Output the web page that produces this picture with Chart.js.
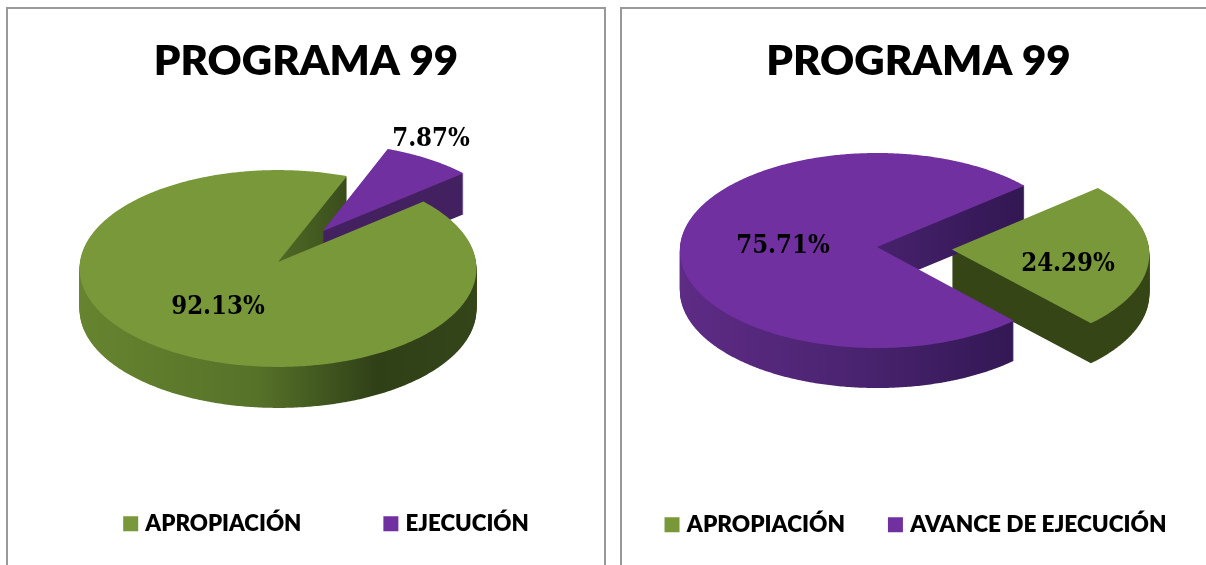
<!DOCTYPE html>
<html><head><meta charset="utf-8">
<script src="https://cdn.jsdelivr.net/npm/chart.js@4"></script>
<style>
html,body{margin:0;padding:0;background:#fff;overflow:hidden;width:1206px;height:565px}
.frame{position:absolute;top:7px;height:600px;border:2px solid #999;box-sizing:border-box}
canvas{position:absolute;top:0;left:0;filter:blur(0.4px)}
</style></head><body>
<div class="frame" style="left:6px;width:600px"></div>
<div class="frame" style="left:620px;width:640px"></div>
<div style="position:absolute;left:0;top:0;width:612px;height:565px"><canvas id="a" width="612" height="565" style="width:612px;height:565px"></canvas></div>
<div style="position:absolute;left:612px;top:0;width:594px;height:565px;overflow:hidden"><canvas id="b" width="660" height="565" style="width:660px;height:565px"></canvas></div>
<script>
const TITLE = 'PROGRAMA 99';
const CATEGORIES_A = ['APROPIACIÓN', 'EJECUCIÓN'];
const VALUES_A = [92.13, 7.87];
const CATEGORIES_B = ['APROPIACIÓN', 'AVANCE DE EJECUCIÓN'];
const VALUES_B = [24.29, 75.71];
const TOP_COLORS = ['#78983a', '#7030a0'];
const GREEN_WALL = ['#66842f', '#567229', '#2f4017', '#35451a'];
const GREEN_WALL_DARK = ['#354516', '#354516', '#354516', '#354516'];
const PURPLE_WALL = ['#5e2b85', '#4a2370', '#381a5a', '#2e154c'];
const PURPLE_WALL_FLAT = ['#43205f', '#43205f', '#43205f', '#43205f'];

function projector(o, arc) {
  const R = arc.outerRadius, k = o.kR / R;
  return (px, py) => {
    const s = 1 / (1 - o.q * py / R);
    return [arc.x + px * s, arc.y + k * py * s];
  };
}
function slicePath(ctx, arc, o) {
  const p = projector(o, arc), off = arc.options.offset || 0;
  const mid = (arc.startAngle + arc.endAngle) / 2;
  const ox = Math.cos(mid) * off, oy = Math.sin(mid) * off;
  const n = Math.ceil((arc.endAngle - arc.startAngle) / 0.01);
  ctx.beginPath();
  ctx.moveTo(...p(ox, oy));
  for (let i = 0; i <= n; i++) {
    const t = arc.startAngle + (arc.endAngle - arc.startAngle) * i / n;
    ctx.lineTo(...p(ox + Math.cos(t) * arc.outerRadius, oy + Math.sin(t) * arc.outerRadius));
  }
  ctx.closePath();
}
function wallFill(ctx, arc, stops) {
  const g = ctx.createLinearGradient(arc.x - arc.outerRadius, 0, arc.x + arc.outerRadius, 0);
  [0, .45, .75, 1].forEach((s, i) => g.addColorStop(s, stops[i]));
  return g;
}
const pie3d = {
  id: 'pie3d',
  afterLayout(chart, args, o) {
    const {left, top, right, bottom} = o.area;
    chart.chartArea = {left, top, right, bottom, width: right - left, height: bottom - top};
    const t = chart.titleBlock, l = chart.legend;
    t.left += o.titleDx; t.right += o.titleDx; t.top = o.titleTop; t.bottom = t.top + t.height;
    l.left += o.legendDx; l.right += o.legendDx;
    l.top = o.legendY - o.legendGap - o.legendSize * 0.6;
    l.bottom = l.top + l.height;
  },
  beforeDatasetsDraw(chart, args, o) {
    const ctx = chart.ctx, arcs = chart.getDatasetMeta(0).data;
    ctx.save();
    [0, 1].forEach(i => {
      const arc = arcs[i];
      ctx.fillStyle = wallFill(ctx, arc, o.walls[i]);
      for (let d = o.depth; d >= 1; d--) {
        ctx.save(); ctx.translate(0, d); slicePath(ctx, arc, o); ctx.fill(); ctx.restore();
      }
    });
    [1, 0].forEach(i => {
      slicePath(ctx, arcs[i], o);
      ctx.fillStyle = arcs[i].options.backgroundColor;
      ctx.fill();
    });
    ctx.restore();
    return false;
  },
  afterDraw(chart, args, o) {
    const ctx = chart.ctx, vals = chart.data.datasets[0].data;
    ctx.save();
    ctx.font = o.labelFont; ctx.fillStyle = '#000';
    ctx.textAlign = 'center'; ctx.textBaseline = 'middle';
    vals.forEach((v, i) => ctx.fillText(v.toFixed(2) + '%', o.labels[i][0], o.labels[i][1]));
    ctx.restore();
  }
};
function build(id, cats, vals, rotation, offsets, radius, o) {
  new Chart(document.getElementById(id), {
    type: 'pie',
    data: {labels: cats, datasets: [{data: vals, backgroundColor: TOP_COLORS, borderWidth: 0, offset: offsets}]},
    options: {
      responsive: false, animation: false, rotation, radius,
      plugins: {
        tooltip: {enabled: false},
        title: {display: true, text: TITLE, color: '#000', font: {family: 'Lato', weight: '800', size: o.titleSize}, padding: 0},
        legend: {position: 'bottom', labels: {usePointStyle: true, pointStyle: 'rect', boxWidth: 7, boxHeight: 15,
          padding: o.legendGap, color: '#000', font: {family: 'Lato', weight: '800', size: o.legendSize}}},
        pie3d: o
      }
    },
    plugins: [pie3d]
  });
}
const LABEL_FONT = 'bold 25.5px "DejaVu Serif Condensed"';
build('a', CATEGORIES_A, VALUES_A, 50, [0, 78], 198, {
  area: {left: 78, right: 478, top: 62, bottom: 462}, q: .066, kR: 98, depth: 41,
  walls: [GREEN_WALL, PURPLE_WALL_FLAT], labelFont: LABEL_FONT,
  labels: [[218, 307], [431, 139]], titleDx: 0, titleTop: 36, titleSize: 42,
  legendDx: 22, legendY: 526, legendGap: 86, legendSize: 22.3
});
build('b', CATEGORIES_B, VALUES_B, 50, [75, 0], 197, {
  area: {left: 65, right: 465, top: 47, bottom: 447}, q: .036, kR: 97.4, depth: 40,
  walls: [GREEN_WALL_DARK, PURPLE_WALL], labelFont: LABEL_FONT,
  labels: [[456, 264], [171, 246]], titleDx: -23.5, titleTop: 36, titleSize: 42,
  legendDx: -24.5, legendY: 527, legendGap: 47, legendSize: 22.6
});
</script>
</body></html>
